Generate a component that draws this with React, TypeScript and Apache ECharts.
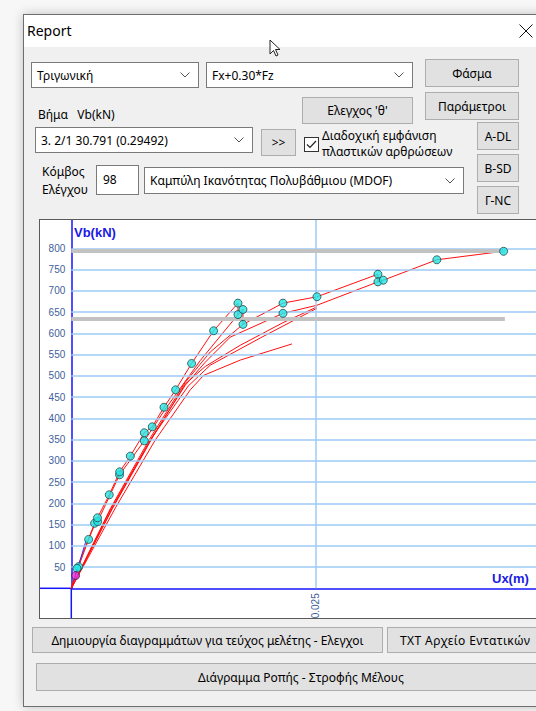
import React, { useEffect, useRef } from "react";
import * as echarts from "echarts";

// ---- Chart data (Ux in m, Vb in kN) ----
const Y_TICKS = [50, 100, 150, 200, 250, 300, 350, 400, 450, 500, 550, 600, 650, 700, 750, 800];
const X_TICKS = [0.025];
const LIMIT_LEVELS = [793.6, 634];
const LIMIT_END = 0.0443;

const curveMain: number[][] = [
  [0, 0], [0.00044, 30], [0.00075, 51], [0.00177, 115], [0.00268, 166], [0.00388, 220],
  [0.00494, 274], [0.00603, 311], [0.00746, 366], [0.00827, 380], [0.00947, 426],
  [0.01066, 467], [0.01229, 529], [0.01454, 606], [0.01703, 671], [0.01703, 644],
  [0.01754, 656], [0.01754, 621], [0.02163, 671], [0.0251, 686], [0.03133, 739],
  [0.03133, 721], [0.03188, 725], [0.03735, 773], [0.04417, 793],
];
const curveB: number[][] = [
  [0, 0], [0.00058, 47], [0.00238, 153], [0.00269, 157], [0.00493, 267], [0.00746, 347],
  [0.0095, 418], [0.01114, 471], [0.01318, 536], [0.01703, 644],
];
const curveC: number[][] = [
  [0, 0], [0.00398, 184], [0.00807, 349], [0.01165, 478], [0.01369, 532], [0.01624, 591],
  [0.02163, 647], [0.0251, 666], [0.03133, 721],
];
const curveD: number[][] = [
  [0, 0], [0.00398, 187], [0.00807, 354], [0.01165, 485], [0.0142, 556], [0.01754, 621],
];
const curveE: number[][] = [
  [0, 0], [0.00419, 189], [0.00828, 356], [0.01195, 476], [0.0142, 525], [0.01931, 589],
  [0.0251, 659],
];
const curveF: number[][] = [
  [0, 0], [0.00419, 187], [0.00828, 354], [0.01165, 481], [0.01369, 522], [0.01727, 572],
  [0.02163, 625], [0.0251, 662],
];
const curveG: number[][] = [
  [0, 0], [0.0045, 189], [0.00858, 349], [0.01216, 467], [0.01352, 501], [0.01727, 537],
  [0.02255, 575],
];
const initialSegment: number[][] = [[0.00044, 31], [0.00153, 114]];
const hingePoints: number[][] = [
  [0.00075, 51], [0.00058, 47], [0.00177, 115], [0.00238, 153], [0.00269, 157], [0.00268, 166],
  [0.00388, 220], [0.00493, 267], [0.00494, 274], [0.00603, 311], [0.00746, 347], [0.00746, 366],
  [0.00827, 380], [0.00947, 426], [0.01066, 467], [0.01229, 529], [0.01454, 606],
  [0.01703, 671], [0.01703, 644], [0.01754, 656], [0.01754, 621], [0.02163, 671], [0.02163, 647],
  [0.0251, 686], [0.03133, 739], [0.03133, 721], [0.03188, 725], [0.03735, 773], [0.04417, 793],
];
const currentPoint: number[][] = [[0.00044, 30]];

const X_MAX = 0.04789;
const Y_MAX = 866.6;

const UI_FONT = "'Noto Sans', 'DejaVu Sans', sans-serif";

// chart box (inside the white panel)
const CH_W = 500;
const CH_H = 398;
const G_LEFT = 31.3;
const G_BOTTOM = 29.7;

function Chart() {
  const ref = useRef<HTMLDivElement>(null);
  useEffect(() => {
    if (!ref.current) return;
    const chart = echarts.init(ref.current, undefined, { renderer: "svg" });
    const red = (data: number[][]) => ({
      type: "line",
      data,
      showSymbol: false,
      symbol: "none",
      lineStyle: { color: "#ff1010", width: 1 },
      z: 3,
      silent: true,
    });
    const gridLines: any[] = Y_TICKS.map((v) => [
      { coord: [0, v] },
      { coord: [X_MAX, v] },
    ]);
    X_TICKS.forEach((v) => gridLines.push([{ coord: [v, 0] }, { coord: [v, Y_MAX] }]));
    const limitLines = LIMIT_LEVELS.map((v) => [
      { coord: [0, v] },
      { coord: [LIMIT_END, v] },
    ]);
    const axisY0 = CH_H - G_BOTTOM;
    chart.setOption({
      animation: false,
      grid: {
        left: G_LEFT,
        right: 0,
        top: 0,
        bottom: G_BOTTOM,
        containLabel: false,
        outerBoundsMode: "none",
      },
      xAxis: {
        type: "value",
        min: 0,
        max: X_MAX,
        interval: 0.025,
        axisLine: { show: true, onZero: false, lineStyle: { color: "#1414ff", width: 1.5 } },
        axisTick: { show: false },
        splitLine: { show: false },
        axisLabel: {
          rotate: 90,
          margin: 5,
          fontSize: 10,
          fontFamily: "'Liberation Sans', Arial, sans-serif",
          color: "#41609a",
          showMaxLabel: false,
          formatter: (v: number) => {
            const t = X_TICKS.find((k) => Math.abs(v - k) < 1e-7);
            return t === undefined ? "" : String(t);
          },
        },
      },
      yAxis: {
        type: "value",
        min: 0,
        max: Y_MAX,
        interval: 50,
        axisLine: { show: true, onZero: false, lineStyle: { color: "#1414ff", width: 1.5 } },
        axisTick: { show: false },
        splitLine: { show: false },
        axisLabel: {
          margin: 6,
          fontSize: 10,
          fontFamily: "'Liberation Sans', Arial, sans-serif",
          color: "#41609a",
          showMaxLabel: false,
          formatter: (v: number) => {
            const r = Math.round(v);
            return Y_TICKS.indexOf(r) >= 0 ? String(r) : "";
          },
        },
      },
      graphic: [
        {
          type: "line",
          silent: true,
          shape: { x1: 0, y1: axisY0, x2: G_LEFT, y2: axisY0 },
          style: { stroke: "#1414ff", lineWidth: 1.5 },
        },
        {
          type: "line",
          silent: true,
          shape: { x1: G_LEFT, y1: axisY0, x2: G_LEFT, y2: CH_H },
          style: { stroke: "#1414ff", lineWidth: 1.5 },
        },
        {
          type: "text",
          left: 34,
          top: 6,
          style: {
            text: "Vb(kN)",
            fill: "#1a1ae6",
            font: "bold 13px 'Liberation Sans', Arial, sans-serif",
          },
        },
        {
          type: "text",
          left: 452,
          top: 352,
          style: {
            text: "Ux(m)",
            fill: "#1a1ae6",
            font: "bold 13px 'Liberation Sans', Arial, sans-serif",
          },
        },
      ],
      series: [
        {
          type: "line",
          data: [[0, 0]],
          showSymbol: false,
          lineStyle: { opacity: 0 },
          silent: true,
          z: 1,
          markLine: {
            silent: true,
            symbol: "none",
            label: { show: false },
            lineStyle: { color: "#9ccbf7", width: 1.5, type: "solid" },
            data: gridLines,
          },
        },
        {
          type: "line",
          data: [[0, 0]],
          showSymbol: false,
          lineStyle: { opacity: 0 },
          silent: true,
          z: 2,
          markLine: {
            silent: true,
            symbol: "none",
            label: { show: false },
            lineStyle: { color: "#c2c2c2", width: 4, type: "solid" },
            data: limitLines,
          },
        },
        red(curveG),
        red(curveF),
        red(curveE),
        red(curveD),
        red(curveC),
        red(curveB),
        red(curveMain),
        {
          type: "line",
          data: initialSegment,
          showSymbol: false,
          lineStyle: { color: "#3030ff", width: 1 },
          z: 4,
          silent: true,
        },
        {
          type: "scatter",
          data: hingePoints,
          symbol: "circle",
          symbolSize: 8,
          itemStyle: { color: "#22e6e6", borderColor: "#204848", borderWidth: 1 },
          z: 5,
          silent: true,
        },
        {
          type: "scatter",
          data: currentPoint,
          symbol: "circle",
          symbolSize: 8,
          itemStyle: { color: "#e02ee0", borderColor: "#402040", borderWidth: 1 },
          z: 6,
          silent: true,
        },
      ],
    });
    return () => chart.dispose();
  }, []);
  return (
    <div
      ref={ref}
      style={{ position: "absolute", left: 40, top: 220, width: CH_W, height: CH_H }}
    />
  );
}

const abs = (x: number, y: number, w: number, h: number): React.CSSProperties => ({
  position: "absolute",
  left: x,
  top: y,
  width: w,
  height: h,
  boxSizing: "border-box",
});

function Chevron() {
  return (
    <svg width="10" height="6" style={{ position: "absolute", right: 8, top: "50%", marginTop: -3 }}>
      <polyline points="0.5,0.5 5,5 9.5,0.5" fill="none" stroke="#555" strokeWidth="1" />
    </svg>
  );
}

function Combo({ x, y, w, h, text }: { x: number; y: number; w: number; h: number; text: string }) {
  return (
    <div
      style={{
        ...abs(x, y, w, h),
        background: "#fff",
        border: "1px solid #7a7a7a",
        display: "flex",
        alignItems: "center",
        paddingLeft: 5,
        whiteSpace: "pre",
      }}
    >
      {text}
      <Chevron />
    </div>
  );
}

function Btn({ x, y, w, h, text }: { x: number; y: number; w: number; h: number; text: string }) {
  return (
    <div
      style={{
        ...abs(x, y, w, h),
        background: "#e1e1e1",
        border: "1px solid #adadad",
        display: "flex",
        alignItems: "center",
        justifyContent: "center",
        whiteSpace: "pre",
        overflow: "hidden",
      }}
    >
      {text}
    </div>
  );
}

function Label({ x, y, text }: { x: number; y: number; text: string }) {
  return (
    <div style={{ position: "absolute", left: x, top: y, whiteSpace: "pre", lineHeight: "16px" }}>
      {text}
    </div>
  );
}

export default function App() {
  return (
    <div
      style={{
        position: "fixed",
        left: 0,
        top: 0,
        width: 536,
        height: 711,
        overflow: "hidden",
        background: "#f7f7f7",
        fontFamily: UI_FONT,
        fontSize: 12,
        color: "#000",
      }}
    >
      {/* dialog frame */}
      <div
        style={{
          ...abs(23, 14, 560, 693),
          border: "1px solid #6e6e6e",
          background: "#f0f0f0",
          boxShadow: "0 0 10px rgba(0,0,0,0.22)",
        }}
      />
      {/* title bar */}
      <div style={{ ...abs(24, 15, 560, 32), background: "#fff" }} />
      <div style={{ position: "absolute", left: 27, top: 21, fontSize: 14, lineHeight: "20px" }}>Report</div>
      <svg style={{ position: "absolute", left: 519, top: 24 }} width="14" height="14">
        <line x1="0.5" y1="0.5" x2="13.5" y2="13.5" stroke="#111" strokeWidth="1" />
        <line x1="13.5" y1="0.5" x2="0.5" y2="13.5" stroke="#111" strokeWidth="1" />
      </svg>

      {/* row 1 */}
      <Combo x={31} y={62} w={168} h={26} text="Τριγωνική" />
      <Combo x={206} y={62} w={207} h={26} text="Fx+0.30*Fz" />
      <Btn x={425} y={59} w={94} h={28} text="Φάσμα" />

      {/* row 2 */}
      <Btn x={302} y={97} w={111} h={27} text="Ελεγχος 'θ'" />
      <Btn x={425} y={92} w={94} h={28} text="Παράμετροι" />
      <Label x={38} y={107} text={"Βήμα   Vb(kN)"} />

      {/* row 3 */}
      <Combo x={35} y={127} w={218} h={26} text="3. 2/1 30.791 (0.29492)" />
      <Btn x={261} y={129} w={35} h={27} text=">>" />
      <div
        style={{
          ...abs(304, 137, 15, 15),
          background: "#fff",
          border: "1px solid #333",
        }}
      >
        <svg width="13" height="13" style={{ position: "absolute", left: 0, top: 0 }}>
          <polyline points="2,6.5 5,9.5 11,3" fill="none" stroke="#222" strokeWidth="1.2" />
        </svg>
      </div>
      <div style={{ position: "absolute", left: 322, top: 128, lineHeight: "16px", whiteSpace: "pre" }}>
        {"Διαδοχική εμφάνιση\nπλαστικών αρθρώσεων"}
      </div>
      <Btn x={477} y={122} w={42} h={28} text="A-DL" />
      <Btn x={477} y={154} w={42} h={28} text="B-SD" />
      <Btn x={477} y={186} w={42} h={28} text="Γ-NC" />

      {/* row 4 */}
      <div style={{ position: "absolute", left: 42, top: 163, lineHeight: "18px", whiteSpace: "pre" }}>
        {"Κόμβος\nΕλέγχου"}
      </div>
      <div
        style={{
          ...abs(96, 165, 43, 30),
          background: "#fff",
          border: "1px solid #7a7a7a",
          paddingLeft: 6,
          paddingTop: 5,
        }}
      >
        98
      </div>
      <Combo x={144} y={167} w={320} h={27} text="Καμπύλη Ικανότητας Πολυβάθμιου (MDOF)" />

      {/* chart panel */}
      <div style={{ ...abs(39, 219, 540, 400), background: "#fff", border: "1px solid #5a5a5a" }} />
      <Chart />

      {/* bottom buttons */}
      <Btn x={32} y={627} w={351} h={26} text="Δημιουργία διαγραμμάτων για τεύχος μελέτης - Ελεγχοι" />
      <div
        style={{
          ...abs(387, 627, 180, 26),
          background: "#e1e1e1",
          border: "1px solid #adadad",
          display: "flex",
          alignItems: "center",
          paddingLeft: 12,
          letterSpacing: 0.4,
          whiteSpace: "pre",
        }}
      >
        TXT Αρχείο Εντατικών
      </div>
      <Btn x={36} y={663} w={530} h={28} text="Διάγραμμα Ροπής - Στροφής Μέλους" />

      {/* mouse cursor */}
      <svg style={{ position: "absolute", left: 269, top: 39 }} width="14" height="20">
        <polygon
          points="1,1 1,15 4.5,11.5 7,17 9,16 6.5,10.5 11,10.5"
          fill="#fff"
          stroke="#222"
          strokeWidth="1"
        />
      </svg>
    </div>
  );
}
